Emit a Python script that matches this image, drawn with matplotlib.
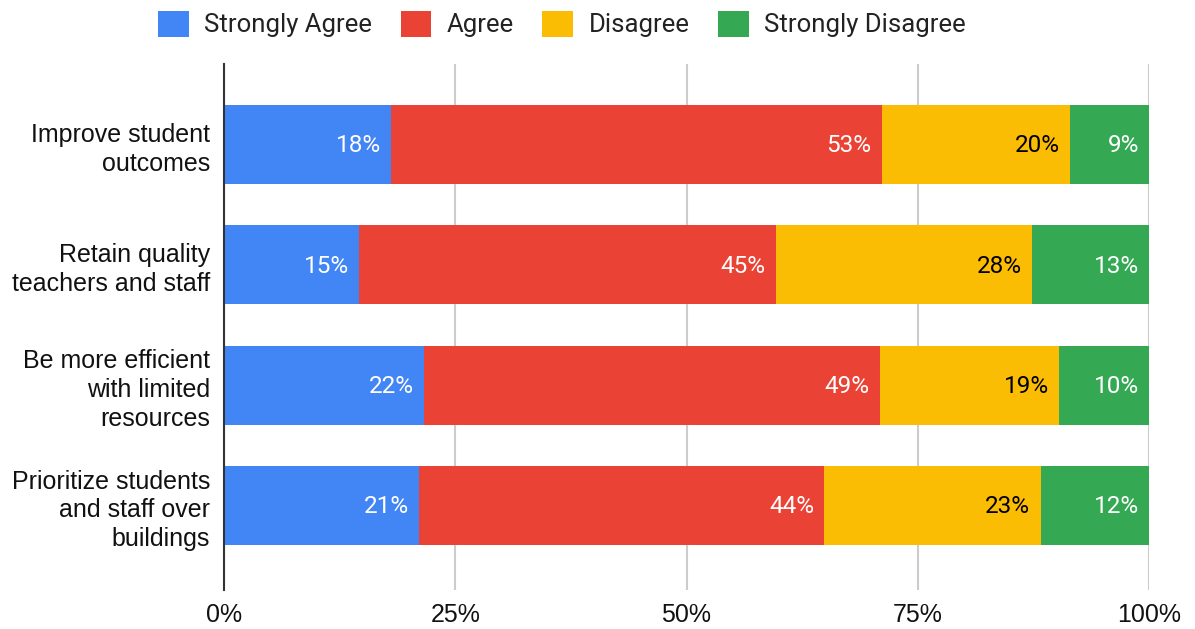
import matplotlib
matplotlib.use("Agg")
import matplotlib.pyplot as plt
from matplotlib.patches import Patch

# Data (percent of respondents)
categories = [
    "Improve student\noutcomes",
    "Retain quality\nteachers and staff",
    "Be more efficient\nwith limited\nresources",
    "Prioritize students\nand staff over\nbuildings",
]
series_names = ["Strongly Agree", "Agree", "Disagree", "Strongly Disagree"]
strongly_agree = [18.1, 14.6, 21.6, 21.1]
agree = [53.0, 45.1, 49.3, 43.8]
disagree = [20.4, 27.7, 19.4, 23.4]
strongly_disagree = [8.6, 12.6, 9.7, 11.7]
xticks = [0, 25, 50, 75, 100]

colors = ["#4285F4", "#EA4335", "#FBBC04", "#34A853"]
label_colors = ["white", "white", "black", "white"]

fig = plt.figure(figsize=(11.95, 6.29), dpi=100)
ax = fig.add_axes([224 / 1195, 39 / 629, 925 / 1195, 526 / 629])

ypos = list(range(len(categories)))
left = [0.0] * len(categories)
for name, vals, col, lcol in zip(series_names,
                                 [strongly_agree, agree, disagree, strongly_disagree],
                                 colors, label_colors):
    ax.barh(ypos, vals, left=left, height=0.657, color=col, zorder=3,
            label=name)
    for y, v, l in zip(ypos, vals, left):
        ax.annotate(f"{round(v)}%", xy=(l + v, y), xytext=(-7.5, -1),
                    textcoords="offset points", ha="right", va="center",
                    fontsize=17.5, color=lcol, family="Roboto", zorder=4,
                    annotation_clip=False)
    left = [l + v for l, v in zip(left, vals)]

ax.set_xlim(0, 100)
ax.set_ylim(3.702, -0.669)
ax.set_xticks(xticks)
ax.set_xticklabels([f"{t}%" for t in xticks])
ax.set_yticks(ypos)
ax.set_yticklabels(categories)
ax.tick_params(axis="both", length=0, labelsize=18, colors="#111111")
ax.tick_params(axis="x", pad=9)
ax.tick_params(axis="y", pad=10)
for lab in ax.get_xticklabels() + ax.get_yticklabels():
    lab.set_family("Liberation Sans")
    lab.set_linespacing(1.25)

ax.grid(axis="x", color="#cccccc", linewidth=1.5, zorder=0)
for s in ["top", "right", "bottom"]:
    ax.spines[s].set_visible(False)
ax.spines["left"].set_color("#333333")
ax.spines["left"].set_linewidth(1.5)
ax.spines["left"].set_zorder(5)

handles = [Patch(facecolor=c, edgecolor="none") for c in colors]
fig.legend(handles, series_names, loc="center", ncol=4,
           bbox_to_anchor=(562 / 1195, 1 - 24 / 629), frameon=False,
           prop={"family": "Roboto", "size": 18.5}, handlelength=1.2,
           handleheight=1.2, handletextpad=0.6, columnspacing=1.1,
           labelcolor="#222222")

fig.savefig("out.png", dpi=100)
